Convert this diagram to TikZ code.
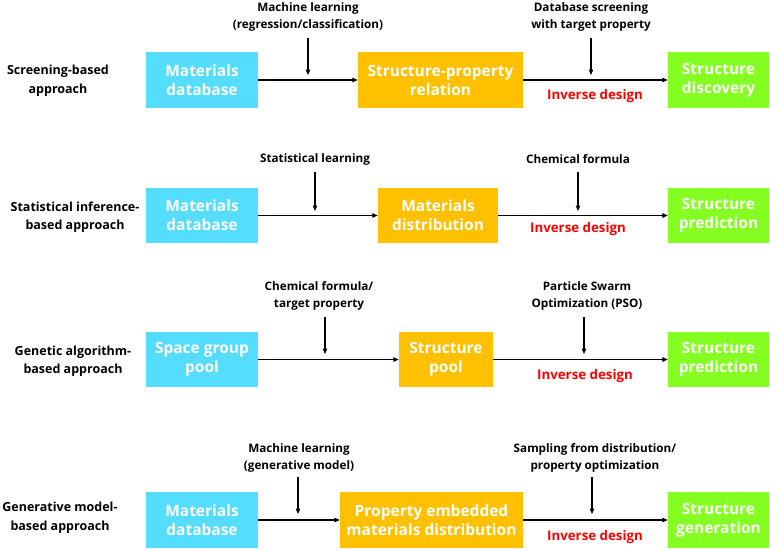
\documentclass[tikz,border=0pt]{standalone}
\usepackage{fontspec}
\setmainfont{Open Sans}[BoldFont={Open Sans Bold}]
\usetikzlibrary{arrows.meta}
\definecolor{cblue}{HTML}{55DDFF}
\definecolor{corange}{HTML}{FFC000}
\definecolor{cgreen}{HTML}{85FF22}
\definecolor{cred}{HTML}{FF0000}
\tikzset{
  box/.style={draw=none, minimum height=56pt, inner sep=0pt, align=center, text=white,
    font=\bfseries\fontsize{15.5}{19}\selectfont},
  bluebox/.style={box, fill=cblue, minimum width=112pt},
  orangebox/.style={box, fill=corange},
  greenbox/.style={box, fill=cgreen, minimum width=101pt},
  lab/.style={align=center, inner sep=0pt, font=\bfseries\fontsize{11.7}{17}\selectfont},
  side/.style={align=center, inner sep=0pt, font=\bfseries\fontsize{12.5}{18.5}\selectfont},
  inv/.style={inner sep=0pt, text=cred, font=\bfseries\fontsize{13.3}{15}\selectfont},
  arr/.style={draw=black, line width=1.1pt, -{Triangle[length=5.5pt,width=4.5pt]}},
}
\begin{document}
\begin{tikzpicture}[x=1pt,y=-1pt]
\useasboundingbox (0,0) rectangle (770,549);
% Row 1
\node[side] (s1) at (58,81) {Screening-based\\approach};
\node[bluebox] (b1) at (202,80) {Materials\\database};
\node[orangebox, minimum width=165pt] (o1) at (440.5,80) {Structure-property\\relation};
\node[greenbox] (g1) at (718.5,80) {Structure\\discovery};
\node[lab] (l1a) at (308,16.5) {Machine learning\\(regression/classification)};
\node[lab] (l1b) at (591,16.5) {Database screening\\with target property};
\node[inv] (i1) at (595,96) {Inverse design};
\coordinate (v1a) at (308,38); \coordinate (v1b) at (308,75);
\coordinate (w1a) at (591,38); \coordinate (w1b) at (591,75);
\draw[arr] (b1) -- (o1);
\draw[arr] (o1) -- (g1);
\draw[arr] (v1a) -- (v1b);
\draw[arr] (w1a) -- (w1b);
% Row 2
\node[side] (s2) at (75,217) {Statistical inference-\\based approach};
\node[bluebox, minimum height=55pt] (b2) at (202,215.5) {Materials\\database};
\node[orangebox, minimum width=120pt, minimum height=55pt] (o2) at (438,215.5) {Materials\\distribution};
\node[greenbox, minimum height=55pt] (g2) at (718.5,215.5) {Structure\\prediction};
\node[lab] (l2a) at (315,159.5) {Statistical learning};
\node[lab] (l2b) at (578,159.5) {Chemical formula};
\node[inv] (i2) at (578,229.5) {Inverse design};
\coordinate (v2a) at (315,172); \coordinate (v2b) at (315,211);
\coordinate (w2a) at (578,172); \coordinate (w2b) at (578,211);
\draw[arr] (b2) -- (o2);
\draw[arr] (o2) -- (g2);
\draw[arr] (v2a) -- (v2b);
\draw[arr] (w2a) -- (w2b);
% Row 3
\node[side] (s3) at (73,361) {Genetic algorithm-\\based approach};
\node[bluebox, minimum height=55pt] (b3) at (202,359.5) {Space group\\pool};
\node[orangebox, minimum width=94pt, minimum height=55pt] (o3) at (446,359.5) {Structure\\pool};
\node[greenbox, minimum height=55pt] (g3) at (718.5,359.5) {Structure\\prediction};
\node[lab] (l3a) at (319,296) {Chemical formula/\\target property};
\node[lab] (l3b) at (587,296) {Particle Swarm\\Optimization (PSO)};
\node[inv] (i3) at (585,376.5) {Inverse design};
\coordinate (v3a) at (325,317); \coordinate (v3b) at (325,354);
\coordinate (w3a) at (584,317); \coordinate (w3b) at (584,354);
\draw[arr] (b3) -- (o3);
\draw[arr] (o3) -- (g3);
\draw[arr] (v3a) -- (v3b);
\draw[arr] (w3a) -- (w3b);
% Row 4
\node[side] (s4) at (60,517.5) {Generative model-\\based approach};
\node[bluebox] (b4) at (202,520) {Materials\\database};
\node[orangebox, minimum width=183pt] (o4) at (431.5,520) {Property embedded\\materials distribution};
\node[greenbox] (g4) at (718.5,520) {Structure\\generation};
\node[lab] (l4a) at (299,458) {Machine learning\\(generative model)};
\node[lab] (l4b) at (595,458) {Sampling from distribution/\\property optimization};
\node[inv] (i4) at (595,537.5) {Inverse design};
\coordinate (v4a) at (298,477); \coordinate (v4b) at (298,514);
\coordinate (w4a) at (592,477); \coordinate (w4b) at (592,514);
\draw[arr] (b4) -- (o4);
\draw[arr] (o4) -- (g4);
\draw[arr] (v4a) -- (v4b);
\draw[arr] (w4a) -- (w4b);
\end{tikzpicture}
\end{document}
